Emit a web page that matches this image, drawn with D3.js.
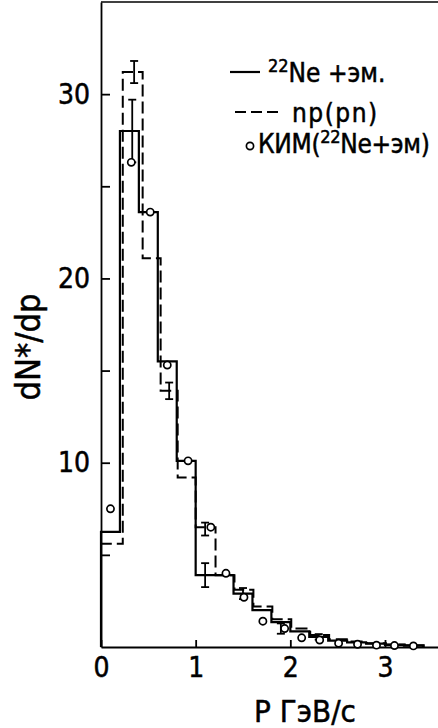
<!DOCTYPE html>
<meta charset="utf-8">
<style>
  body { margin: 0; background: #fff; }
  svg text { font-family: "Liberation Sans Narrow", "DejaVu Sans Condensed", "Liberation Sans", sans-serif; fill: #000; stroke: #000; stroke-width: 0.5px; }
</style>
<svg width="438" height="728"></svg>
<script src="https://cdn.jsdelivr.net/npm/d3@7"></script>
<script>

// bin edges (GeV/c) and heights
var solidEdges = [0, 0.2, 0.4, 0.6, 0.8, 1.0, 1.2, 1.4, 1.6, 1.8, 2.0, 2.2, 2.4, 2.6, 2.8, 3.0, 3.2, 3.4];
var solidVals  = [6.25, 28.0, 23.6, 15.5, 10.1, 3.9, 3.9, 2.9, 2.0, 1.35, 0.85, 0.55, 0.35, 0.25, 0.18, 0.12, 0.08];

var dashEdges = [0, 0.23, 0.44, 0.63, 0.81, 1.0, 1.21, 1.41, 1.61, 1.81, 2.01, 2.21, 2.41, 2.61, 2.81, 3.01, 3.21, 3.41];
var dashVals  = [5.6, 31.2, 21.1, 13.9, 9.2, 6.5, 3.9, 3.1, 2.2, 1.5, 1.0, 0.65, 0.42, 0.3, 0.2, 0.14, 0.09];

// KIM calculation points
var kimP = [0.1, 0.32, 0.52, 0.7, 0.92, 1.16, 1.32, 1.51, 1.71, 1.94, 2.12, 2.31, 2.51, 2.71, 2.91, 3.1, 3.3];
var kimV = [7.5, 26.3, 23.6, 15.3, 10.1, 6.5, 4.0, 2.7, 1.4, 1.0, 0.5, 0.38, 0.2, 0.15, 0.1, 0.08, 0.06];

// error bars
var errP = [0.35, 0.33, 0.72, 1.10, 1.10, 1.5, 1.9, 2.3];
var errV = [31.2, 28.0, 13.9, 6.4, 3.9, 2.9, 1.0, 0.55];
var errD = [0.6, 1.7, 0.45, 0.35, 0.65, 0.3, 0.28, 0.15];

var yTicks = [5, 10, 15, 20, 25, 30];
var xTicks = [0, 1, 2, 3];

var svg = d3.select("svg"),
    margin = {top: 2, right: 0, bottom: 81, left: 101},
    width = +svg.attr("width") - margin.left - margin.right,
    height = +svg.attr("height") - margin.top - margin.bottom,
    g = svg.append("g").attr("transform", "translate(" + margin.left + "," + margin.top + ")");

var x = d3.scaleLinear().domain([0, 3.56]).range([0, width]);
var y = d3.scaleLinear().domain([0, 35]).range([height, 0]);

// axes
var yAxis = d3.axisLeft(y)
    .tickValues(yTicks)
    .tickSize(-9)
    .tickSizeOuter(0)
    .tickPadding(11)
    .tickFormat(function(d) { return d % 10 === 0 ? d : ""; });

var xAxis = d3.axisBottom(x)
    .tickValues(xTicks)
    .tickSize(-7)
    .tickSizeOuter(0)
    .tickPadding(10)
    .tickFormat(d3.format("d"));

var ya = g.append("g").call(yAxis);
var xa = g.append("g").attr("transform", "translate(0," + height + ")").call(xAxis);

[ya, xa].forEach(function(a) {
  a.selectAll("path, line").attr("stroke", "#000").attr("stroke-width", 1.8);
  a.selectAll("text").style("font-size", "28px").attr("fill", "#000");
});

// top border
g.append("line")
    .attr("x1", 0).attr("x2", width)
    .attr("y1", y(35)).attr("y2", y(35))
    .attr("stroke", "#000").attr("stroke-width", 1.5);

// step histogram path
function stepPath(edges, vals) {
  var p = d3.path();
  p.moveTo(x(edges[0]), y(0));
  vals.forEach(function(v, i) {
    p.lineTo(x(edges[i]), y(v));
    p.lineTo(x(edges[i + 1]), y(v));
  });
  p.lineTo(x(edges[edges.length - 1]), y(0));
  return p.toString();
}

g.append("path")
    .attr("d", stepPath(dashEdges, dashVals))
    .attr("fill", "none")
    .attr("stroke", "#000")
    .attr("stroke-width", 2)
    .attr("stroke-dasharray", "12,5");

g.append("path")
    .attr("d", stepPath(solidEdges, solidVals))
    .attr("fill", "none")
    .attr("stroke", "#000")
    .attr("stroke-width", 2.2);

// error bars
errP.forEach(function(p, i) {
  var cx = x(p), y1 = y(errV[i] + errD[i]), y2 = y(errV[i] - errD[i]);
  var e = g.append("g").attr("stroke", "#000").attr("stroke-width", 1.8);
  e.append("line").attr("x1", cx).attr("x2", cx).attr("y1", y1).attr("y2", y2);
  e.append("line").attr("x1", cx - 4).attr("x2", cx + 4).attr("y1", y1).attr("y2", y1);
  e.append("line").attr("x1", cx - 4).attr("x2", cx + 4).attr("y1", y2).attr("y2", y2);
});

// KIM points
g.selectAll("circle.kim")
    .data(kimP)
  .enter().append("circle")
    .attr("class", "kim")
    .attr("cx", function(d) { return x(d); })
    .attr("cy", function(d, i) { return y(kimV[i]); })
    .attr("r", 3.6)
    .attr("fill", "#fff")
    .attr("stroke", "#000")
    .attr("stroke-width", 1.7);

// axis titles
svg.append("text")
    .attr("transform", "translate(40,347) rotate(-90)")
    .attr("text-anchor", "middle")
    .style("font-size", "34px")
    .text("dN*/dp");

svg.append("text")
    .attr("x", 305).attr("y", 722)
    .attr("text-anchor", "middle")
    .style("font-size", "31px")
    .text("P ГэВ/с");

// legend
var leg = svg.append("g");
leg.append("line").attr("x1", 230).attr("x2", 260).attr("y1", 72).attr("y2", 72)
    .attr("stroke", "#000").attr("stroke-width", 2.2);
leg.append("line").attr("x1", 235).attr("x2", 279).attr("y1", 112).attr("y2", 112)
    .attr("stroke", "#000").attr("stroke-width", 2.2).attr("stroke-dasharray", "11,5");
leg.append("circle").attr("cx", 250).attr("cy", 146).attr("r", 3.6)
    .attr("fill", "#fff").attr("stroke", "#000").attr("stroke-width", 1.7);

var t1 = leg.append("text").attr("x", 268).attr("y", 82).style("font-size", "26px");
t1.append("tspan").attr("dy", "-10").style("font-size", "18px").text("22");
t1.append("tspan").attr("dy", "10").text("Ne +эм.");

leg.append("text").attr("x", 292).attr("y", 122).style("font-size", "26px")
    .style("letter-spacing", "1.5px").text("np(pn)");

var t3 = leg.append("text").attr("x", 258).attr("y", 153).style("font-size", "26px")
    .style("letter-spacing", "-0.3px");
t3.append("tspan").text("КИМ(");
t3.append("tspan").attr("dy", "-10").style("font-size", "18px").text("22");
t3.append("tspan").attr("dy", "10").text("Ne+эм)");

</script>
